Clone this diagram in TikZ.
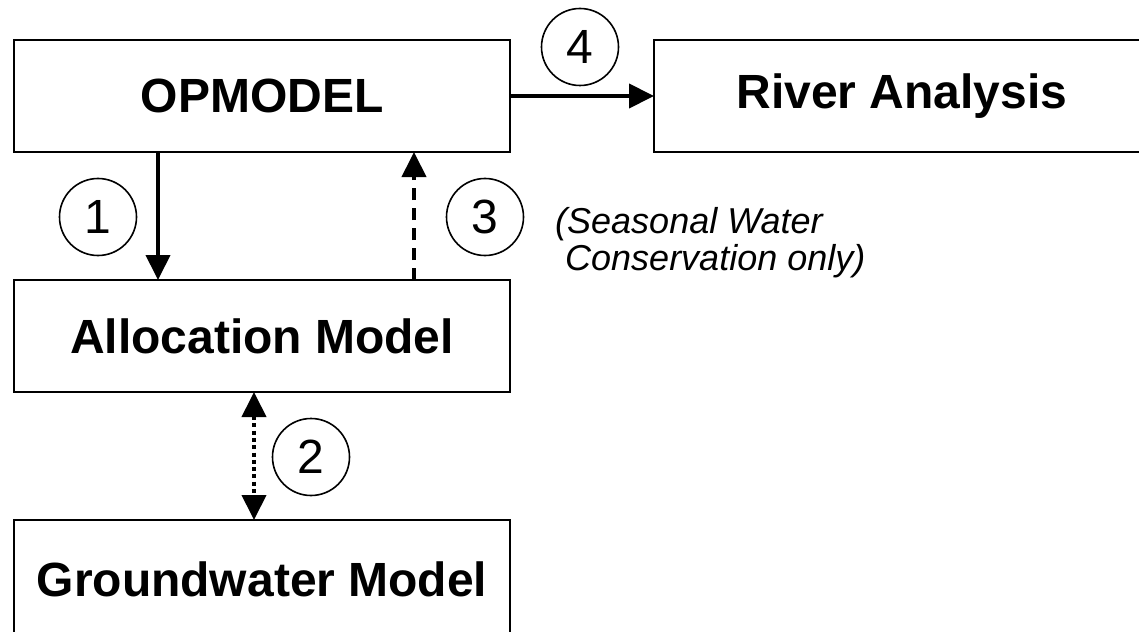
\documentclass[tikz,border=0pt]{standalone}
\usepackage{fontspec}
\setmainfont{Liberation Sans}
\usetikzlibrary{arrows.meta}
\begin{document}
\begin{tikzpicture}[x=1pt,y=-1pt,
  box/.style={draw,line width=2pt,minimum width=496pt,minimum height=112pt,inner sep=0pt,outer sep=0pt,font=\fontsize{48}{56}\selectfont\bfseries},
  num/.style={draw,circle,line width=1.6pt,minimum size=77pt,inner sep=0pt,font=\fontsize{48}{54}\selectfont},
  link/.style={line width=4pt,-{Triangle[length=25pt,width=24pt]}},
  bilink/.style={line width=4pt,{Triangle[length=25pt,width=24pt]}-{Triangle[length=25pt,width=24pt]}},
  note/.style={anchor=north west,inner sep=0pt,align=left,font=\fontsize{36}{37}\selectfont\itshape}
]
\useasboundingbox (0,0) rectangle (1139,631);
\node[box] (op) at (262,96) {OPMODEL};
\node[box] (river) at (902,96) {River Analysis};
\node[box] (alloc) at (262,336) {Allocation Model};
\node[box,minimum height=118pt] (gw) at (262,579) {Groundwater Model};

\draw[link] (op.east) -- (river.west);
\draw[link] ([xshift=-104pt]op.south) -- ([xshift=-104pt]alloc.north);
\draw[link,dash pattern=on 12pt off 8pt] ([xshift=152pt]alloc.north) -- ([xshift=152pt]op.south);
\draw[bilink,dash pattern=on 4pt off 3.3pt] ([xshift=-8pt]alloc.south) -- ([xshift=-8pt]gw.north);

\node[num] (n1) at (98,217) {1};
\node[num] (n2) at (311,457) {2};
\node[num] (n3) at (485,217) {3};
\node[num] (n4) at (580,47) {4};

\node[note] (txt) at (555,207) {(Seasonal Water\\\hspace*{10pt}Conservation only)};
\end{tikzpicture}
\end{document}
